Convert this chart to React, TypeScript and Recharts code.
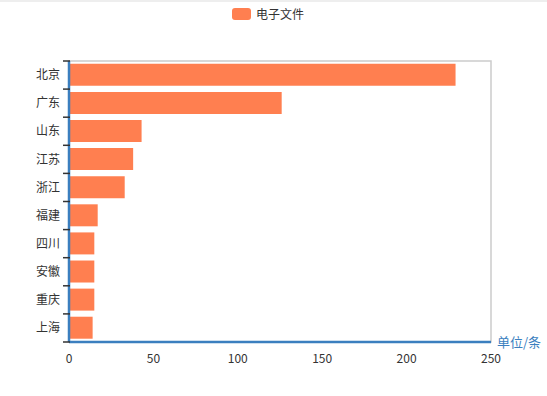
import React from "react";
import {
  BarChart,
  Bar,
  XAxis,
  YAxis,
  Legend,
  ReferenceArea,
} from "recharts";

// categories and values
const provinces = ["北京", "广东", "山东", "江苏", "浙江", "福建", "四川", "安徽", "重庆", "上海"];
const fileCounts = [229, 126, 43, 38, 33, 17, 15, 15, 15, 14];
const xTicks = [0, 50, 100, 150, 200, 250];
const seriesName = "电子文件";
const unitLabel = "单位/条";

const data = provinces.map((p, i) => ({ name: p, value: fileCounts[i] }));

const FONT = '"Noto Sans CJK SC", "Noto Sans", sans-serif';
const AXIS_BLUE = "#3b7fbf";
const BAR_COLOR = "#ff7f50";

// y tick: label plus a small tick line at the band boundaries
function CategoryTick(props: any) {
  const { x, y, payload, index, visibleTicksCount } = props;
  const half = payload.offset || 0;
  const lineX1 = x + 3;
  const lineX2 = x + 10;
  return (
    <g>
      <line x1={lineX1} x2={lineX2} y1={y - half} y2={y - half} stroke="#333" strokeWidth={1.5} />
      {index === visibleTicksCount - 1 && (
        <line x1={lineX1} x2={lineX2} y1={y + half} y2={y + half} stroke="#333" strokeWidth={1.5} />
      )}
      <text x={x} y={y} dy="0.35em" textAnchor="end" fill="#333" fontSize={12} fontFamily={FONT}>
        {payload.value}
      </text>
    </g>
  );
}

function TopLegend() {
  return (
    <div style={{ height: 57, display: "flex", justifyContent: "flex-start", alignItems: "flex-start" }}>
      <div style={{ display: "flex", alignItems: "center", marginTop: 1, marginLeft: 232 }}>
        <span
          style={{
            display: "inline-block",
            width: 19,
            height: 12,
            borderRadius: 3,
            background: BAR_COLOR,
            marginRight: 5,
          }}
        />
        <span style={{ fontSize: 12, color: "#333", fontFamily: FONT }}>{seriesName}</span>
      </div>
    </div>
  );
}

function UnitLabel(props: any) {
  const { viewBox } = props;
  return (
    <text
      x={viewBox.x + viewBox.width + 6}
      y={viewBox.y}
      dy="0.35em"
      fill={AXIS_BLUE}
      fontSize={13}
      fontFamily={FONT}
    >
      {unitLabel}
    </text>
  );
}

export default function App() {
  return (
    <div style={{ position: "fixed", left: 0, top: 0, width: 547, height: 396, background: "#fff" }}>
      <div style={{ position: "absolute", left: 0, top: 0, width: 547, height: 2, background: "#eeeeee" }} />
      <BarChart
        width={547}
        height={396}
        data={data}
        layout="vertical"
        margin={{ top: 4, right: 56, bottom: 24, left: 0 }}
        barCategoryGap="10%"
      >
        <Legend verticalAlign="top" align="center" content={<TopLegend />} />
        <ReferenceArea x1={0} x2={250} fill="none" stroke="#cccccc" strokeWidth={1.5} ifOverflow="extendDomain" />
        <XAxis
          type="number"
          domain={[0, 250]}
          ticks={xTicks}
          height={30}
          tickLine={false}
          tickSize={6}
          tickMargin={6}
          axisLine={{ stroke: AXIS_BLUE, strokeWidth: 2.5 }}
          tick={{ fill: "#333", fontSize: 12, fontFamily: FONT }}
          label={<UnitLabel />}
        />
        <YAxis
          type="category"
          dataKey="name"
          width={69}
          tickLine={false}
          tickSize={6}
          tickMargin={3}
          axisLine={{ stroke: AXIS_BLUE, strokeWidth: 2.5 }}
          tick={<CategoryTick />}
          interval={0}
        />
        <Bar dataKey="value" name={seriesName} fill={BAR_COLOR} isAnimationActive={false} />
      </BarChart>
    </div>
  );
}
